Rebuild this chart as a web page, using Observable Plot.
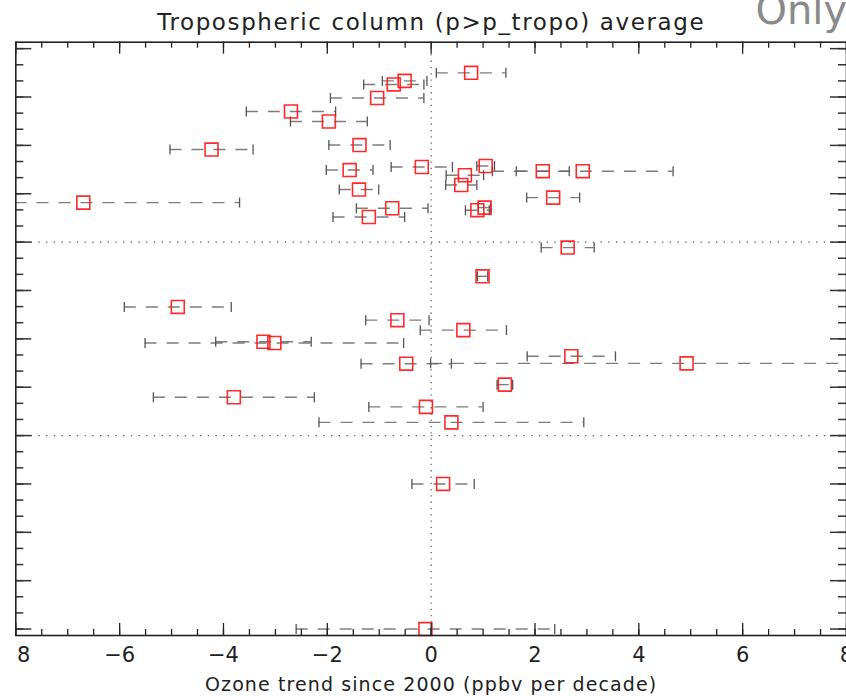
<!DOCTYPE html>
<html>
<head>
<meta charset="utf-8">
<script src="https://cdn.jsdelivr.net/npm/d3@7"></script>
<script src="https://cdn.jsdelivr.net/npm/@observablehq/plot@0.6"></script>
<style>
  html, body { margin: 0; padding: 0; background: #fff; overflow: hidden; }
  #chart svg { display: block; }
</style>
</head>
<body>
<div id="chart"></div>
<script>
// ---- data ----
const latitude = [82.5, 80.0, 78.9, 74.7, 70.5, 67.4, 60.1, 58.7, 53.6, 53.3, 52.35, 52.0, 52.0, 50.75,
  47.7, 46.3, 43.8, 42.25, 40.7, 40.5, 39.9, 37.8, 28.3, 19.4, 9.9, 5.8, 2.7, -0.9, -1.3, -5.4,
  -7.6, -7.7, -14.2, -18.1, -21.1, -25.9, -45.0, -90.0];
const trend = [0.77, -0.51, -0.72, -1.04, -2.70, -1.97, -1.38, -4.23, 1.05, -0.18, -1.57, 2.15, 2.92, 0.65,
  0.58, -1.39, 2.35, -6.70, 1.03, -0.75, 0.89, -1.20, 2.63, 0.99, -4.88, -0.65, 0.62, -3.23, -3.02, 2.70,
  4.92, -0.48, 1.42, -3.80, -0.10, 0.39, 0.23, -0.11];
const uncertainty = [0.67, 0.43, 0.58, 0.90, 0.86, 0.74, 0.59, 0.80, 0.17, 0.59, 0.45, 0.51, 1.74, 0.36,
  0.30, 0.38, 0.51, 3.01, 0.12, 0.69, 0.23, 0.69, 0.51, 0.10, 1.03, 0.61, 0.83, 0.92, 2.49, 0.85,
  4.93, 0.87, 0.15, 1.55, 1.10, 2.55, 0.60, 2.49];

const xMajorTicks = [-8, -6, -4, -2, 0, 2, 4, 6, 8];
const xMinorTicks = d3.range(-8, 8.001, 0.5);
const yMajorTicks = [-90, -75, -60, -45, -30, -15, 0, 15, 30, 45, 60, 75, 90];
const yMinorTicks = d3.range(-90, 90.001, 5);
const zeroLine = [0];
const latitudeLines = [-30, 30];

const titleText = "Tropospheric column (p>p_tropo) average";
const xLabelText = "Ozone trend since 2000 (ppbv per decade)";
const cornerText = "Only";

const rows = latitude.map((lat, i) => ({
  lat, trend: trend[i], lo: trend[i] - uncertainty[i], hi: trend[i] + uncertainty[i]
}));

// ---- layout ----
const W = 846, H = 696;
const mL = 15.3, mR = 0, mT = 41.7, mB = 61;
const fw = W - mL - mR, fh = H - mT - mB;
const font = "'DejaVu Sans', sans-serif";

const capSymbol = { draw(ctx) { ctx.moveTo(0, -5); ctx.lineTo(0, 5); } };
const fmt = d => (d < 0 ? "\u2212" + Math.abs(d) : String(d));
const innerTicks = xMajorTicks.filter(d => d > -8);
const edgeTick = xMajorTicks.filter(d => d === -8);

const chart = Plot.plot({
  width: W, height: H,
  marginLeft: mL, marginRight: mR, marginTop: mT, marginBottom: mB,
  style: { fontFamily: font, background: "#fff", overflow: "hidden" },
  x: { domain: [-8, 8], axis: null },
  y: { domain: [-92, 92], axis: null },
  marks: [
    // reference lines
    Plot.ruleX(zeroLine, { stroke: "#666", strokeWidth: 1.3, strokeDasharray: "1.3,5" }),
    Plot.ruleY(latitudeLines, { stroke: "#555", strokeWidth: 1.3, strokeDasharray: "1.3,6.4" }),
    // error bars
    Plot.ruleY(rows, { y: "lat", x1: "lo", x2: "hi", stroke: "#666", strokeOpacity: 0.85, strokeWidth: 1.4, strokeDasharray: "12,10", clip: true }),
    Plot.dot(rows, { x: "lo", y: "lat", symbol: capSymbol, fill: "none", stroke: "#555", strokeWidth: 1.3, clip: true }),
    Plot.dot(rows, { x: "hi", y: "lat", symbol: capSymbol, fill: "none", stroke: "#555", strokeWidth: 1.3, clip: true }),
    // trend markers
    Plot.dot(rows, { x: "trend", y: "lat", symbol: "square", r: 7.3, fill: "none", stroke: "#ff1414", strokeOpacity: 0.9, strokeWidth: 1.6 }),
    // ticks (inward, on all four sides)
    Plot.tickX(xMajorTicks, { x: d => d, insetBottom: fh - 12, stroke: "#222", strokeWidth: 1.3 }),
    Plot.tickX(xMinorTicks, { x: d => d, insetBottom: fh - 6, stroke: "#222", strokeWidth: 1.3 }),
    Plot.tickX(xMajorTicks, { x: d => d, insetTop: fh - 12, stroke: "#222", strokeWidth: 1.3 }),
    Plot.tickX(xMinorTicks, { x: d => d, insetTop: fh - 6, stroke: "#222", strokeWidth: 1.3 }),
    Plot.tickY(yMajorTicks, { y: d => d, insetRight: fw - 16, stroke: "#333", strokeWidth: 1.5 }),
    Plot.tickY(yMinorTicks, { y: d => d, insetRight: fw - 8, stroke: "#333", strokeWidth: 1.5 }),
    Plot.tickY(yMajorTicks, { y: d => d, insetLeft: fw - 16, stroke: "#333", strokeWidth: 1.5 }),
    Plot.tickY(yMinorTicks, { y: d => d, insetLeft: fw - 8, stroke: "#333", strokeWidth: 1.5 }),
    Plot.frame({ stroke: "#222", strokeWidth: 1.6 }),
    // tick labels
    Plot.axisX({ ticks: innerTicks, tickSize: 0, tickPadding: 12, tickFormat: fmt, fontSize: 21, fill: "#222", anchor: "bottom", label: null }),
    Plot.text(edgeTick, { x: d => d, text: d => String(Math.abs(d)), frameAnchor: "bottom", lineAnchor: "top", dy: 12, dx: 8, fontSize: 21, fill: "#222" }),
    // texts
    Plot.text([titleText], { text: d => d, frameAnchor: "top", lineAnchor: "middle", dy: -20, fontSize: 23, fill: "#222" }),
    Plot.text([xLabelText], { text: d => d, frameAnchor: "bottom", lineAnchor: "middle", dy: 49, fontSize: 19, fill: "#222" }),
    Plot.text([cornerText], { text: d => d, frameAnchor: "top-right", textAnchor: "start", lineAnchor: "bottom", dx: -91, dy: -18, fontSize: 40, fill: "#8a8a8a" })
  ]
});
// widen the title and axis label letter spacing to match the reference's stroke font
d3.select(chart).selectAll("text").each(function () {
  const t = this.textContent;
  if (t === titleText) this.setAttribute("letter-spacing", "1.6");
  if (t === xLabelText) this.setAttribute("letter-spacing", "1.1");
});
document.getElementById("chart").appendChild(chart);
</script>
</body>
</html>
